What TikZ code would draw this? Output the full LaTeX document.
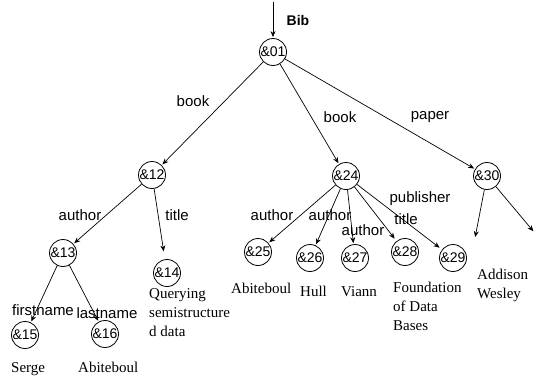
\documentclass[tikz,border=0pt]{standalone}
\usepackage{fontspec}
\setmainfont{Liberation Serif}
\setsansfont{Liberation Sans}
\usetikzlibrary{arrows.meta}
\begin{document}
\begin{tikzpicture}[x=1pt,y=-1pt,
  obj/.style={circle,draw,line width=0.8pt,minimum size=27pt,inner sep=0pt,
    font=\sffamily\fontsize{14}{16}\selectfont},
  lbl/.style={font=\sffamily\fontsize{15}{17}\selectfont,inner sep=0pt},
  val/.style={font=\rmfamily\fontsize{15}{19}\selectfont,inner sep=0pt,align=left,anchor=base west},
  edge/.style={-{Stealth[length=6pt,width=5pt]},line width=0.7pt,shorten >=1pt}]
\useasboundingbox (0,0) rectangle (540,376);
% objects
\node[obj] (n01) at (273,52) {\&01};
\node[obj] (n12) at (152,175) {\&12};
\node[obj] (n24) at (346,176) {\&24};
\node[obj] (n30) at (487,176) {\&30};
\node[obj] (n13) at (63,253) {\&13};
\node[obj] (n14) at (167,273) {\&14};
\node[obj] (n15) at (25,335) {\&15};
\node[obj] (n16) at (105,334) {\&16};
\node[obj] (n25) at (258,252) {\&25};
\node[obj] (n26) at (310,258) {\&26};
\node[obj] (n27) at (355,258) {\&27};
\node[obj] (n28) at (405,252) {\&28};
\node[obj] (n29) at (453,258) {\&29};
\coordinate (top) at (273,2);
\coordinate (e1) at (475,238);
\coordinate (e2) at (534,232);
% root
\draw[edge] (top) -- (n01);
\node[font=\sffamily\bfseries\fontsize{14}{16}\selectfont] (bib) at (298,20) {Bib};
% edges
\draw[edge] (n01) -- (n12);
\draw[edge] (n01) -- (n24);
\draw[edge] (n01) -- (n30);
\draw[edge] (n12) -- (n13);
\draw[edge,shorten >=8pt] (n12) -- (n14);
\draw[edge] (n13) -- (n15);
\draw[edge] (n13) -- (n16);
\draw[edge] (n24) -- (n25);
\draw[edge] (n24) -- (n26);
\draw[edge] (n24) -- (n27);
\draw[edge,shorten >=3pt] (n24) -- (n28);
\draw[edge,shorten >=3pt] (n24) -- (n29);
\draw[edge] (n30) -- (e1);
\draw[edge] (n30) -- (e2);
% edge labels
\node[lbl] (l1) at (193,101) {book};
\node[lbl] (l2) at (340,117) {book};
\node[lbl] (l3) at (430,117) {paper};
\node[lbl] (l4) at (80,215) {author};
\node[lbl] (l5) at (177,215) {title};
\node[lbl] (l6) at (272,215) {author};
\node[lbl] (l7) at (330,215) {author};
\node[lbl] (l8) at (363,230) {author};
\node[lbl] (l9) at (420,199) {publisher};
\node[lbl] (l10) at (406,219) {title};
\node[lbl] (l11) at (43,310) {firstname};
\node[lbl] (l12) at (107,313) {lastname};
% values
\node[val] (v1) at (11,372) {Serge};
\node[val] (v2) at (78,372) {Abiteboul};
\node[val] (v3) at (149,336) {Querying\\semistructure\\d data};
\node[val] (v4) at (231,293) {Abiteboul};
\node[val] (v5) at (300,296) {Hull};
\node[val] (v6) at (341,296) {Viann};
\node[val] (v7) at (393,330) {Foundation\\of Data\\Bases};
\node[val] (v8) at (477,298) {Addison\\Wesley};
\end{tikzpicture}
\end{document}
